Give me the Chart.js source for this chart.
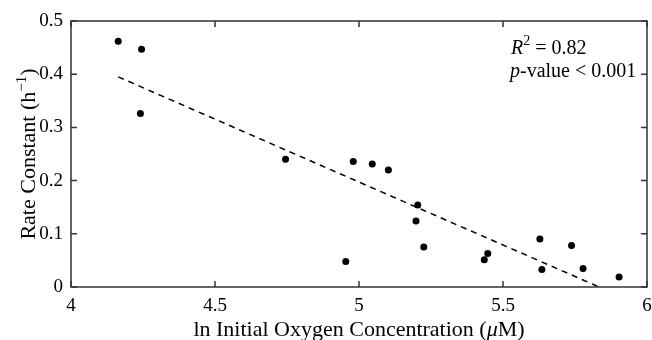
<!DOCTYPE html>
<html lang="en">
<head>
    <meta charset="UTF-8">
    <title>Rate Constant vs ln Initial Oxygen Concentration</title>
    <script src="https://cdn.jsdelivr.net/npm/chart.js"></script>
    <style>
        body {
            margin: 0;
            background: #ffffff;
        }
        #wrap {
            width: 652px;
            height: 340px;
        }
    </style>
</head>
<body>
    <div id="wrap"><canvas id="rateChart" width="652" height="340"></canvas></div>

    <script>
        // Data
        const lnOxygen = [4.164, 4.245, 4.241, 4.745, 4.980, 5.046, 5.102, 5.204, 5.198,
                          5.225, 4.954, 5.435, 5.447, 5.628, 5.635, 5.738, 5.778, 5.903];
        const rateConstant = [0.462, 0.447, 0.326, 0.240, 0.236, 0.231, 0.220, 0.154, 0.124,
                              0.075, 0.048, 0.051, 0.063, 0.090, 0.033, 0.078, 0.035, 0.019];
        // fitted trend line endpoints
        const fitX = [4.164, 5.834];
        const fitY = [0.395, 0];

        const xTicks = [4, 4.5, 5, 5.5, 6];
        const yTicks = [0, 0.1, 0.2, 0.3, 0.4, 0.5];

        const serif = "'Liberation Serif', 'Times New Roman', serif";
        const ink = '#000000';
        const axisColor = '#333333';

        // draw a run of [text, font, rise] pieces starting at x
        function drawRuns(ctx, runs, x, y) {
            runs.forEach(r => {
                ctx.font = r[1];
                ctx.fillText(r[0], x, y - (r[2] || 0));
                x += ctx.measureText(r[0]).width;
            });
        }
        function runsWidth(ctx, runs) {
            let w = 0;
            runs.forEach(r => { ctx.font = r[1]; w += ctx.measureText(r[0]).width; });
            return w;
        }

        // Box around plot area, inward ticks on all sides, titles and annotation
        const boxTicks = {
            id: 'boxTicks',
            afterDraw(chart) {
                const ctx = chart.ctx;
                const a = chart.chartArea;
                const xs = chart.scales.x, ys = chart.scales.y;
                const len = 6;
                ctx.save();
                ctx.strokeStyle = axisColor;
                ctx.lineWidth = 1.5;
                ctx.strokeRect(a.left, a.top, a.right - a.left, a.bottom - a.top);
                ctx.beginPath();
                xTicks.forEach(v => {
                    const px = xs.getPixelForValue(v);
                    ctx.moveTo(px, a.bottom); ctx.lineTo(px, a.bottom - len);
                    ctx.moveTo(px, a.top); ctx.lineTo(px, a.top + len);
                });
                yTicks.forEach(v => {
                    const py = ys.getPixelForValue(v);
                    ctx.moveTo(a.left, py); ctx.lineTo(a.left + len, py);
                    ctx.moveTo(a.right, py); ctx.lineTo(a.right - len, py);
                });
                ctx.stroke();

                ctx.fillStyle = ink;
                ctx.textBaseline = 'alphabetic';
                ctx.textAlign = 'left';

                const big = '22px ' + serif;
                const sup = '15px ' + serif;

                // x axis title
                const xRuns = [['ln Initial Oxygen Concentration (', big], ['\u03bc', 'italic ' + big], ['M)', big]];
                const xw = runsWidth(ctx, xRuns);
                drawRuns(ctx, xRuns, (a.left + a.right) / 2 - xw / 2, 336);

                // y axis title (rotated)
                const yRuns = [['Rate Constant (h', big], ['\u22121', sup, 9], [')', big]];
                const yw = runsWidth(ctx, yRuns);
                ctx.save();
                ctx.translate(35, (a.top + a.bottom) / 2);
                ctx.rotate(-Math.PI / 2);
                drawRuns(ctx, yRuns, -yw / 2, 0);
                ctx.restore();

                // statistics annotation
                const ann = '20px ' + serif;
                drawRuns(ctx, [['R', 'italic ' + ann], ['2', '14px ' + serif, 9], [' = 0.82', ann]], a.left + 440, a.top + 33);
                drawRuns(ctx, [['p', 'italic ' + ann], ['-value < 0.001', ann]], a.left + 439, a.top + 56);
                ctx.restore();
            }
        };

        const ctx = document.getElementById('rateChart').getContext('2d');
        const rateChart = new Chart(ctx, {
            type: 'scatter',
            data: {
                datasets: [{
                    label: 'Measured',
                    data: lnOxygen.map((v, i) => ({ x: v, y: rateConstant[i] })),
                    backgroundColor: ink,
                    borderColor: ink,
                    pointRadius: 3.5,
                    pointBorderWidth: 0
                }, {
                    label: 'Fit',
                    type: 'line',
                    data: fitX.map((v, i) => ({ x: v, y: fitY[i] })),
                    borderColor: ink,
                    borderWidth: 1.5,
                    borderDash: [6, 5],
                    pointRadius: 0,
                    fill: false
                }]
            },
            options: {
                responsive: false,
                animation: false,
                layout: { padding: { top: 21, right: 5, left: 0, bottom: 0 } },
                plugins: {
                    legend: { display: false },
                    tooltip: { enabled: false }
                },
                scales: {
                    x: {
                        type: 'linear',
                        min: 4,
                        max: 6,
                        afterBuildTicks: s => { s.ticks = xTicks.map(v => ({ value: v })); },
                        afterFit: s => { s.height = 53; s.paddingLeft = 0; s.paddingRight = 0; },
                        grid: { display: false, drawTicks: false },
                        border: { display: false },
                        ticks: {
                            color: ink,
                            padding: 8,
                            maxRotation: 0,
                            font: { family: serif, size: 19 },
                            callback: v => String(v)
                        }
                    },
                    y: {
                        type: 'linear',
                        min: 0,
                        max: 0.5,
                        afterBuildTicks: s => { s.ticks = yTicks.map(v => ({ value: v })); },
                        afterFit: s => { s.width = 71; },
                        grid: { display: false, drawTicks: false },
                        border: { display: false },
                        ticks: {
                            color: ink,
                            padding: 8,
                            font: { family: serif, size: 19 },
                            callback: v => String(v)
                        }
                    }
                }
            },
            plugins: [boxTicks]
        });
    </script>
</body>
</html>
